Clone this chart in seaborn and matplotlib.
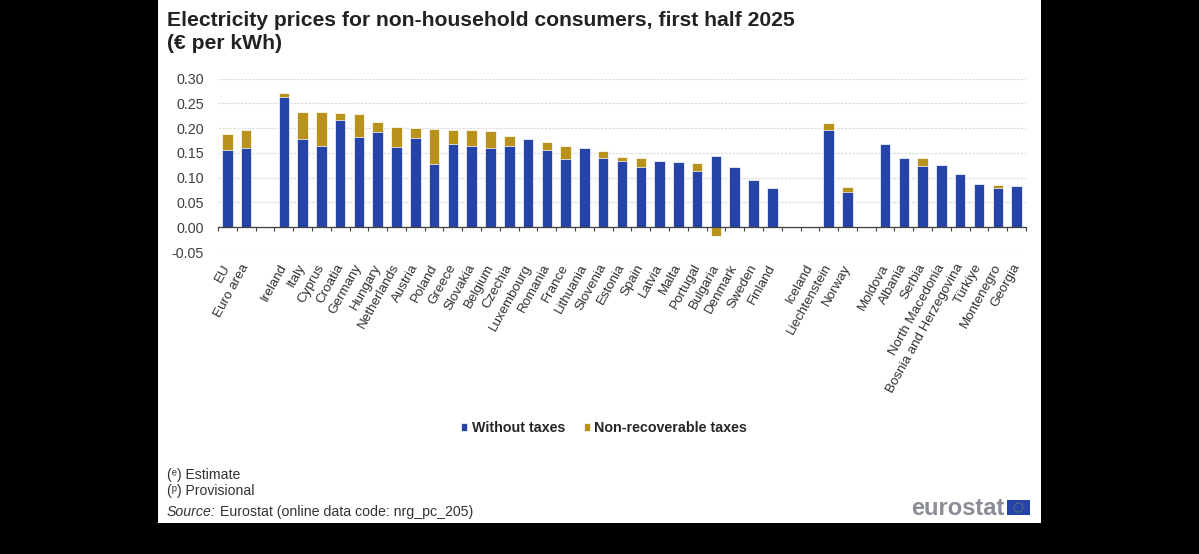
import numpy as np
import pandas as pd
import matplotlib.pyplot as plt
import matplotlib.transforms as mtransforms
import seaborn as sns
from matplotlib.patches import Rectangle, Circle

# slots with spaces are the empty gaps between country groups
countries = ['EU', 'Euro area', ' ',
             'Ireland', 'Italy', 'Cyprus', 'Croatia', 'Germany', 'Hungary', 'Netherlands',
             'Austria', 'Poland', 'Greece', 'Slovakia', 'Belgium', 'Czechia', 'Luxembourg',
             'Romania', 'France', 'Lithuania', 'Slovenia', 'Estonia', 'Spain', 'Latvia',
             'Malta', 'Portugal', 'Bulgaria', 'Denmark', 'Sweden', 'Finland', '  ',
             'Iceland', 'Liechtenstein', 'Norway', '   ',
             'Moldova', 'Albania', 'Serbia', 'North Macedonia', 'Bosnia and Herzegovina',
             'Türkiye', 'Montenegro', 'Georgia']
without_taxes = [0.155, 0.160, np.nan,
                 0.262, 0.177, 0.164, 0.216, 0.182, 0.192, 0.162,
                 0.179, 0.128, 0.168, 0.164, 0.159, 0.164, 0.177,
                 0.155, 0.137, 0.159, 0.140, 0.133, 0.122, 0.134,
                 0.132, 0.113, 0.144, 0.122, 0.095, 0.079, np.nan,
                 np.nan, 0.196, 0.072, np.nan,
                 0.168, 0.140, 0.123, 0.125, 0.107,
                 0.087, 0.080, 0.084]
non_recoverable = [0.033, 0.036, np.nan,
                   0.009, 0.056, 0.068, 0.014, 0.046, 0.020, 0.041,
                   0.022, 0.071, 0.028, 0.032, 0.035, 0.019, 0.0,
                   0.016, 0.027, 0.0, 0.014, 0.009, 0.018, 0.0,
                   0.0, 0.017, -0.0175, 0.0, 0.0, 0.0, np.nan,
                   np.nan, 0.015, 0.009, np.nan,
                   0.0, 0.0, 0.017, 0.0, 0.0,
                   0.0, 0.006, 0.0]
y_ticks = [-0.05, 0.00, 0.05, 0.10, 0.15, 0.20, 0.25, 0.30]

BLUE = '#2644A7'
GOLD = '#B9921C'
W, H = 1199, 554

df = pd.DataFrame({'country': countries, 'without': without_taxes, 'tax': non_recoverable})
# gold goes behind blue: stacked on top when positive, below zero when negative
df['gold'] = np.where(df['tax'] > 0, df['without'] + df['tax'], df['tax'])

sns.set_theme(style='white')
plt.rcParams['font.family'] = ['Liberation Sans', 'DejaVu Sans']

fig = plt.figure(figsize=(W / 100, H / 100), dpi=100, facecolor='black')
fig.add_artist(Rectangle((158 / W, 1 - 523 / H), 883 / W, 523 / H, transform=fig.transFigure,
                         facecolor='white', edgecolor='none', zorder=-1))

ax = fig.add_axes([218 / W, 1 - 252 / H, 808 / W, 173.5 / H], facecolor='none')
sns.barplot(data=df, x='country', y='gold', order=countries, color=GOLD, saturation=1,
            width=0.56, edgecolor='white', linewidth=0.5, label='Non-recoverable taxes', ax=ax)
sns.barplot(data=df, x='country', y='without', order=countries, color=BLUE, saturation=1,
            width=0.56, edgecolor='white', linewidth=0.5, label='Without taxes', ax=ax)

ax.set_xlim(-0.5, len(countries) - 0.5)
ax.set_ylim(-0.05, 0.30)
ax.set_xlabel('')
ax.set_ylabel('')
ax.set_yticks(y_ticks)
ax.set_yticklabels([f'{v:.2f}' for v in y_ticks], fontsize=10.3, color='#404040')
ax.yaxis.grid(True, color='#dddddd', linestyle=(0, (2, 1)), linewidth=0.9)
ax.set_axisbelow(True)
ax.tick_params(axis='y', length=0, pad=10)

for side in ['left', 'right', 'top']:
    ax.spines[side].set_visible(False)
ax.spines['bottom'].set_position(('data', 0))
ax.spines['bottom'].set_color('#404040')
ax.spines['bottom'].set_linewidth(0.9)

ax.set_xticks(np.arange(len(countries)))
ax.set_xticklabels(countries, rotation=61, ha='right', rotation_mode='anchor',
                   fontsize=9.6, color='#303030')
ax.tick_params(axis='x', which='major', length=0, pad=25)
ax.set_xticks(np.arange(len(countries) + 1) - 0.5, minor=True)
ax.tick_params(axis='x', which='minor', length=3, width=0.8, color='#404040', bottom=True)
# nudge the rotated labels left so they end under their bars
nudge = mtransforms.ScaledTranslation(-5 / 100, 0, fig.dpi_scale_trans)
for label in ax.get_xticklabels():
    label.set_transform(label.get_transform() + nudge)

handles, labels = ax.get_legend_handles_labels()
ax.get_legend().remove()
fig.legend(handles[::-1], labels[::-1], loc='center', bbox_to_anchor=(604 / W, 1 - 428 / H),
           ncol=2, frameon=False, prop={'weight': 'bold', 'size': 10.3},
           handlelength=0.45, handleheight=0.45, handletextpad=0.3, columnspacing=1.3)

fig.text(167 / W, 1 - 26 / H, 'Electricity prices for non-household consumers, first half 2025',
         fontsize=15.25, fontweight='bold', color='#222222')
fig.text(167 / W, 1 - 49 / H, '(€ per kWh)', fontsize=15.25, fontweight='bold', color='#222222')

fig.text(167 / W, 1 - 479 / H, '(ᵉ) Estimate', fontsize=10.1, color='#333333')
fig.text(167 / W, 1 - 495 / H, '(ᵖ) Provisional', fontsize=10.1, color='#333333')
fig.text(167 / W, 1 - 516 / H, 'Source:', fontsize=10.2, style='italic', color='#333333')
fig.text(220 / W, 1 - 516 / H, 'Eurostat (online data code: nrg_pc_205)', fontsize=10.2, color='#333333')

# eurostat logo, bottom right
fig.text(1004 / W, 1 - 515 / H, 'eurostat', fontsize=17, fontweight='bold',
         color='#8a8d96', ha='right')
flag = fig.add_axes([1007 / W, 1 - 515 / H, 23 / W, 15 / H], facecolor=BLUE)
flag.set_xlim(0, 23)
flag.set_ylim(0, 15)
flag.axis('off')
flag.add_patch(Rectangle((0, 0), 23, 15, facecolor=BLUE, edgecolor='none'))
flag.add_patch(Circle((11.5, 7.5), 4.5, facecolor='none', edgecolor='#8f8f4a',
                      linewidth=0.7, linestyle=(0, (1, 1))))

fig.savefig('out.png', dpi=100, facecolor=fig.get_facecolor())
